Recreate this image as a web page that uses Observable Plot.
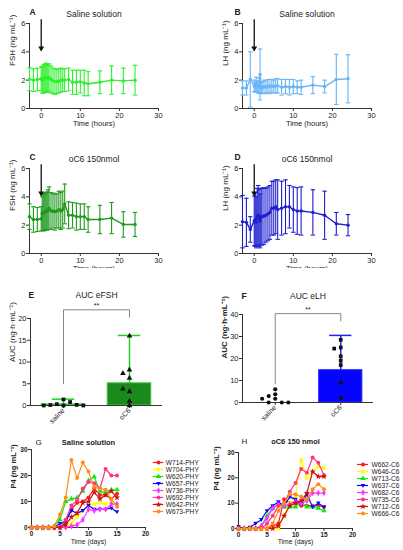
<!DOCTYPE html>
<html><head><meta charset="utf-8">
<script src="https://cdn.jsdelivr.net/npm/d3@7"></script>
<script src="https://cdn.jsdelivr.net/npm/@observablehq/plot@0.6"></script>
<style>
html,body{margin:0;padding:0;background:#fff;}
#fig{position:relative;width:403px;height:550px;overflow:hidden;background:#fff;}
#fig svg{position:absolute;}
</style></head><body><div id="fig"></div>
<script>
// ---------- DATA ----------
const hours = [-3,-2,-1,0,0.25,0.5,0.75,1,1.25,1.5,1.75,2,2.5,3,3.5,4,4.5,5,5.5,6,7,8,9,10,11,12,15,18,21,24];
const hourTicks = [0,10,20,30];
const fshSalineMean = [2.07,2.0,2.05,2.1,2.0,2.05,2.1,2.15,2.2,2.15,2.1,2.2,2.05,1.95,1.9,1.9,1.95,2.0,2.0,2.0,2.05,1.85,1.85,1.9,1.8,1.75,1.85,2.0,1.95,2.0];
const fshSalineSd   = [0.8,0.8,0.8,0.85,0.9,0.95,1.0,1.0,1.0,1.0,0.95,0.95,0.95,0.9,0.9,0.85,0.85,0.85,0.8,0.8,0.8,0.85,0.85,0.8,0.9,0.85,0.8,1.0,0.9,1.05];
const lhSalineMean  = [1.45,1.45,2.05,1.6,1.5,1.7,1.55,1.5,1.6,2.4,1.5,1.45,1.55,1.5,1.6,1.55,1.6,1.55,1.6,1.6,1.5,1.55,1.5,1.55,1.5,1.5,1.65,1.55,2.05,2.1];
const lhSalineSd    = [0.5,0.5,1.95,0.4,0.35,0.5,0.4,0.4,0.55,1.8,0.4,0.4,0.45,0.45,0.45,0.5,0.45,0.45,0.5,0.5,0.55,0.5,0.55,0.5,0.45,0.5,0.6,0.45,1.77,1.7];
const fshOc6Mean    = [2.6,2.4,2.4,2.45,2.8,2.9,2.9,2.95,3.0,3.0,3.1,3.2,3.0,3.0,2.95,3.0,3.1,3.0,3.1,3.5,2.7,2.7,2.6,2.6,2.6,2.4,2.4,2.5,2.05,2.05];
const fshOc6Sd      = [0.9,0.9,0.85,0.85,1.2,1.25,1.3,1.3,1.3,1.35,1.4,1.5,1.3,1.2,1.3,1.2,1.3,1.3,1.3,1.4,0.95,0.9,0.95,0.9,0.9,0.9,1.0,1.1,0.9,0.85];
const lhOc6Mean     = [2.25,2.2,1.7,2.3,2.4,2.2,2.6,2.7,2.5,2.3,2.6,2.6,2.65,2.7,2.8,2.9,3.2,3.2,3.3,3.1,3.2,3.3,3.3,3.1,3.0,3.0,2.9,2.7,2.1,2.0];
const lhOc6Sd       = [1.85,1.7,0.9,1.75,1.9,1.8,2.0,2.1,2.0,1.9,2.0,2.0,2.0,1.9,1.9,1.9,1.9,1.9,1.9,2.1,1.9,1.9,1.5,1.6,1.65,1.7,1.6,1.7,0.8,0.75];
const injectionArrow = {x: 0, from: 6.3, to: 4.1};

const aucGroups = ["saline","oC6"];
const aucFshSaline = [1.4,0,0.3,0.8,0.1,0.15,0,0];
const aucFshOc6    = [16,8.2,7.4,6.3,3.2,3.8,1.0,0];
const aucFshBars   = [{group:"saline", mean:0.25, top:1.45},{group:"oC6", mean:5.1, top:16.1}];
const aucFshBracket = {leftLow:5, top:22, rightLow:20.3, stars:22.3};
const aucLhSaline  = [1.7,0,6.0,2.9,0,3.7,1.7,0];
const aucLhOc6     = [28.5,25,24.5,21,19,17,9,2];
const aucLhBars    = [{group:"oC6", mean:14.7, top:30.5}];
const aucLhBracket = {leftLow:8.5, top:40.4, rightLow:37, stars:41.2};

const days = [0,1,2,3,4,5,6,7,8,9,10,11,12,13,14,15];
const dayTicks = [0,5,10,15,20];
const p4Ticks = [0,10,20,30];
const salineNames = ["W714-PHY","W704-PHY","W620-PHY","W657-PHY","W736-PHY","W692-PHY","W642-PHY","W673-PHY"];
const salineP4 = [
  [0,0,0,0,0,0,2,7,9.5,10,11.5,15,12.5,12.5,11,13],
  [0,0,0,0,0,0,0,1.5,4,6.5,8.5,9,9.5,9,10,9],
  [0,0,0,0,0.5,3,10,11,11.5,14,18,19.5,14,13.5,14.5,14.5],
  [0,0,0,0,0,1.5,2.5,6.5,5.5,6.5,8.5,7,7,7,7.5,6],
  [0,0,0,0,0,0,0,0.5,1,3,7,6.5,7,7,9,9],
  [0,0,0,0,0,0,3,8.5,10.5,15,17.5,17,15,22.5,20,20],
  [0,0,0,0,0,0,1,4,5.5,9.5,10,13.5,11,12.5,14,11.5],
  [0,0,0,0,0.5,5,11.5,26,19,25,21.5,15.5,15,14.5,11,8]
];
const oc6Names = ["W662-C6","W646-C6","W713-C6","W637-C6","W682-C6","W735-C6","W712-C6","W666-C6"];
const oc6P4 = [
  [0,0,0,0,0,0,1,2,11.5,10,10.5,9,9,9,9,8.5],
  [0,0,0,0,0,0,0,0,5,10,13,27,20,22.5,24.5,24],
  [0,0,0,0,1,5,8,9.5,8.5,8.5,8.5,10.5,8.5,8.5,8,7],
  [0.8,0,0.5,2,3.5,7,9,10.5,9,12.5,11.5,9.5,13.5,8.5,10,8.5],
  [0,0,0,0,1,4,8,9.5,9,9.5,10.5,10,11,14,14,14],
  [0,0,0,0,0,2,5,9,10,14.5,18,23.5,22,28,26,21],
  [0,0,0,0,0,0,0,1,5,9,10,11,14,22.5,20.5,20.5],
  [0,0,0,0,0,0,2,7,10,13.5,13.5,12.5,11.5,15.5,17.5,15.5]
];
const seriesColors = ["#ff1a1a","#ffff00","#10e810","#0a0aff","#ff33ff","#ff3385","#cc1111","#ff8c1a"];

// ---------- HELPERS ----------
const font = '"Liberation Sans", Arial, sans-serif';
const axisColor = "#333";
const fmt = d => String(d);
const capSymbol = {draw(ctx, size){ const r = Math.sqrt(size/Math.PI); ctx.moveTo(-r,0); ctx.lineTo(r,0); }};
const triDown = {draw(ctx, size){ const r = Math.sqrt(size/Math.PI)*1.2; ctx.moveTo(0,r); ctx.lineTo(r*0.95,-r*0.65); ctx.lineTo(-r*0.95,-r*0.65); ctx.closePath(); }};
const seriesSymbols = ["circle","square","triangle",triDown,"diamond","circle","star","circle"];
const fig = document.getElementById("fig");
function place(svg, left, top, bg){
  svg.style.left = left + "px"; svg.style.top = top + "px";
  if (bg) svg.style.background = bg;
  fig.appendChild(svg);
}
const baseStyle = {background:"none", overflow:"visible", fontFamily:font, fontSize:"7.5px", color:"#222", maxWidth:"none"};

function timePanel(o){
  const rows = hours.map((t,i)=>({t, m:o.mean[i], lo:o.mean[i]-o.sd[i], hi:o.mean[i]+o.sd[i]}));
  const svg = Plot.plot({
    width:o.width, height:o.height,
    marginTop:o.m[0], marginRight:o.m[1], marginBottom:o.m[2], marginLeft:o.m[3],
    x:{domain:[hours[0], hourTicks[hourTicks.length-1]]}, y:{domain:[0,6]},
    style: baseStyle,
    marks:[
      Plot.ruleY([0], {stroke:axisColor}),
      Plot.ruleX([hours[0]], {stroke:axisColor}),
      Plot.axisX({ticks:hourTicks, tickFormat:fmt, tickSize:3, tickPadding:1, label:null, stroke:axisColor}),
      Plot.axisY({ticks:[0,2,4,6], tickFormat:fmt, tickSize:3, tickPadding:1, label:null, stroke:axisColor}),
      Plot.ruleX(rows, {x:"t", y1:"lo", y2:"hi", stroke:o.color, strokeWidth:1.1}),
      Plot.dot(rows, {x:"t", y:"hi", symbol:capSymbol, r:2.2, stroke:o.color, fill:"none", strokeWidth:1.1}),
      Plot.dot(rows, {x:"t", y:"lo", symbol:capSymbol, r:2.2, stroke:o.color, fill:"none", strokeWidth:1.1}),
      Plot.line(rows, {x:"t", y:"m", stroke:o.color, strokeWidth:1.4}),
      Plot.dot(rows, {x:"t", y:"m", r:1.7, fill:o.color}),
      Plot.link([injectionArrow], {x1:"x", x2:"x", y1:"from", y2:"to", stroke:"#111", strokeWidth:1.3}),
      Plot.dot([injectionArrow], {x:"x", y:"to", symbol:triDown, r:2.6, fill:"#111", dy:-2}),
      Plot.text([o.title], {frameAnchor:"top", dy:-13, fontSize:8.5}),
      Plot.text([o.letter], {frameAnchor:"top-left", dx:o.letterDx, dy:-15, fontWeight:"bold", fontSize:8.5, textAnchor:"start"}),
      Plot.text([o.yLabel], {frameAnchor:"left", dx:-17, rotate:-90, fontSize:8}),
      Plot.text(["Time (hours)"], {frameAnchor:"bottom", dy:17, fontSize:7.5})
    ]
  });
  place(svg, o.left, o.top, o.bg);
}

function dodge(vals, center, yMax, step){
  const placed = [];
  const order = [0,-1,1,-2,2,-3,3,-4,4,-5,5];
  return vals.map(v => {
    for (const k of order){
      const x = center + k*step;
      if (!placed.some(p => Math.abs(p.x-x) < step*0.9 && Math.abs(p.y-v) < yMax*0.05)){
        placed.push({x, y:v}); return {x, y:v};
      }
    }
    return {x:center, y:v};
  });
}

function aucPanel(o){
  const centerOf = g => aucGroups.indexOf(g) + 0.5;
  const bars = o.bars.map(b => ({...b, c:centerOf(b.group)}));
  const pts1 = dodge(o.saline, 0.5, o.yMax, 0.1);
  const pts2 = dodge(o.oc6, 1.5, o.yMax, 0.1);
  const br = o.bracket;
  const bracketPts = [{x:0.5,y:br.leftLow},{x:0.5,y:br.top},{x:1.5,y:br.top},{x:1.5,y:br.rightLow}];
  const svg = Plot.plot({
    width:o.width, height:o.height,
    marginTop:o.m[0], marginRight:o.m[1], marginBottom:o.m[2], marginLeft:o.m[3],
    x:{domain:[0, aucGroups.length]}, y:{domain:[0,o.yMax]},
    style: baseStyle,
    marks:[
      Plot.rectY(bars, {x1:d=>d.c-0.33, x2:d=>d.c+0.33, y:"mean", fill:o.barFill, stroke:o.barStroke, strokeWidth:1}),
      Plot.ruleX(bars, {x:"c", y1:"mean", y2:"top", stroke:o.errColor, strokeWidth:1.5}),
      Plot.ruleY(bars, {y:"top", x1:d=>d.c-0.17, x2:d=>d.c+0.17, stroke:o.errColor, strokeWidth:1.5}),
      Plot.ruleY([0], {stroke:axisColor}),
      Plot.ruleX([0], {stroke:axisColor}),
      Plot.axisX({ticks:[0.5,1.5], tickFormat:d=>aucGroups[Math.floor(d)], tickRotate:-45, tickSize:3, tickPadding:1, label:null, stroke:axisColor, fontSize:7}),
      Plot.axisY({ticks:o.yTicks, tickFormat:fmt, tickSize:3, tickPadding:1, label:null, stroke:axisColor}),
      Plot.dot(pts1, {x:"x", y:"y", symbol:o.salineSymbol, r:2.1, fill:"#111"}),
      Plot.dot(pts2, {x:"x", y:"y", symbol:o.oc6Symbol, r:2.1, fill:"#111"}),
      Plot.line(bracketPts, {x:"x", y:"y", stroke:"#888", strokeWidth:1}),
      Plot.text([br], {x:()=>1, y:"stars", text:()=>"**", fontSize:7, lineAnchor:"bottom"}),
      Plot.text([o.title], {frameAnchor:"top", dy:o.titleDy, fontSize:8.5}),
      Plot.text([o.letter], {frameAnchor:"top-left", dx:o.letterDx, dy:o.titleDy, fontWeight:"bold", fontSize:8.5, textAnchor:"start"}),
      Plot.text([o.yLabel], {frameAnchor:"left", dx:-18, rotate:-90, fontSize:8, fontWeight:o.yLabelWeight})
    ]
  });
  place(svg, o.left, o.top, "#fff");
}

function p4Panel(o){
  const marks = [
    Plot.ruleY([0], {stroke:axisColor}),
    Plot.ruleX([0], {stroke:axisColor}),
    Plot.axisX({ticks:dayTicks, tickFormat:fmt, tickSize:3, tickPadding:1, label:null, stroke:axisColor, fontSize:6.5, fontWeight:"bold"}),
    Plot.axisY({ticks:p4Ticks, tickFormat:fmt, tickSize:3, tickPadding:1, label:null, stroke:axisColor, fontSize:6.5, fontWeight:"bold"})
  ];
  o.series.forEach((vals, i) => {
    const rows = days.map((d,j)=>({d, v:vals[j]}));
    marks.push(Plot.line(rows, {x:"d", y:"v", stroke:seriesColors[i], strokeWidth:1.2}));
    marks.push(Plot.dot(rows, {x:"d", y:"v", symbol:seriesSymbols[i], r:2, fill:seriesColors[i]}));
  });
  marks.push(
    Plot.text([o.title], {frameAnchor:"top", dy:o.titleDy, fontSize:7.5, fontWeight:"bold"}),
    Plot.text([o.letter], {frameAnchor:"top-left", dx:o.letterDx, dy:o.titleDy, fontSize:8, textAnchor:"start"}),
    Plot.text(["P4 (ng mL⁻¹)"], {frameAnchor:"left", dx:o.yLabelDx, rotate:-90, fontSize:7.5, fontWeight:"bold"}),
    Plot.text(["Time (days)"], {frameAnchor:"bottom", dy:o.xLabelDy, fontSize:6.8})
  );
  const svg = Plot.plot({
    width:o.width, height:o.height,
    marginTop:o.m[0], marginRight:o.m[1], marginBottom:o.m[2], marginLeft:o.m[3],
    x:{domain:[0,20]}, y:{domain:[0,30]},
    style: baseStyle, marks
  });
  place(svg, o.left, o.top);

  // legend
  const lg = o.legend;
  const lmarks = [];
  o.names.forEach((n,i) => {
    lmarks.push(Plot.tickY([n], {y:d=>d, stroke:seriesColors[i], strokeWidth:1.2}));
    lmarks.push(Plot.dot([n], {y:d=>d, symbol:seriesSymbols[i], r:2, fill:seriesColors[i]}));
  });
  lmarks.push(Plot.text(o.names, {y:d=>d, text:d=>d, frameAnchor:"right", dx:lg.textDx, textAnchor:"start", fontSize:6.6}));
  const lsvg = Plot.plot({
    width:lg.width, height:lg.height, marginTop:5, marginBottom:5, marginLeft:lg.mL, marginRight:lg.mR,
    y:{type:"point", domain:o.names, axis:null},
    style: baseStyle, marks:lmarks
  });
  place(lsvg, lg.left, lg.top);
}

// ---------- PANELS ----------
timePanel({left:0, top:0, width:200, height:135, m:[23,42,27,29], mean:fshSalineMean, sd:fshSalineSd, color:"#2ef02e",
  title:"Saline solution", letter:"A", letterDx:0, yLabel:"FSH (ng mL⁻¹)"});
timePanel({left:200, top:0, width:203, height:135, m:[23,32,27,42], mean:lhSalineMean, sd:lhSalineSd, color:"#6ab4f5",
  title:"Saline solution", letter:"B", letterDx:-8, yLabel:"LH (ng mL⁻¹)"});
timePanel({left:0, top:135, width:200, height:135, m:[33,42,17,29], mean:fshOc6Mean, sd:fshOc6Sd, color:"#1f9a1f",
  title:"oC6 150nmol", letter:"C", letterDx:0, yLabel:"FSH (ng mL⁻¹)"});
timePanel({left:200, top:135, width:203, height:135, m:[33,32,17,42], mean:lhOc6Mean, sd:lhOc6Sd, color:"#1f1fcf",
  title:"oC6 150nmol", letter:"D", letterDx:-8, yLabel:"LH (ng mL⁻¹)"});

aucPanel({left:0, top:268, width:200, height:160, m:[50,38,23,30], yMax:20, yTicks:[0,5,10,15,20],
  saline:aucFshSaline, oc6:aucFshOc6, bars:aucFshBars, barFill:"#1a8a1a", barStroke:"#3cc43c", errColor:"#22d022",
  salineSymbol:"square", oc6Symbol:"triangle", bracket:aucFshBracket, title:"AUC eFSH", letter:"E", letterDx:-2, titleDy:-27,
  yLabel:"AUC (ng·h·mL⁻¹)", yLabelWeight:"normal"});
aucPanel({left:200, top:268, width:203, height:160, m:[46,30,26,42], yMax:40, yTicks:[0,10,20,30,40],
  saline:aucLhSaline, oc6:aucLhOc6, bars:aucLhBars, barFill:"#0505ff", barStroke:"#2a2aff", errColor:"#2020ff",
  salineSymbol:"circle", oc6Symbol:"square", bracket:aucLhBracket, title:"AUC eLH", letter:"F", letterDx:-1, titleDy:-22,
  yLabel:"AUC (ng·h·mL⁻¹)", yLabelWeight:"bold"});

p4Panel({left:0, top:430, width:200, height:120, m:[19,55,23,31], series:salineP4, names:salineNames,
  title:"Saline solution", letter:"G", letterDx:4, titleDy:-10, yLabelDx:-18, xLabelDy:16,
  legend:{left:150, top:450, width:53, height:72, mL:2.7, mR:39.7, textDx:2}});
p4Panel({left:200, top:430, width:203, height:120, m:[22,51,22,38], series:oc6P4, names:oc6Names,
  title:"oC6 150 nmol", letter:"H", letterDx:3, titleDy:-14, yLabelDx:-22, xLabelDy:15,
  legend:{left:355, top:453, width:48, height:71, mL:2, mR:35, textDx:3}});
</script></body></html>
